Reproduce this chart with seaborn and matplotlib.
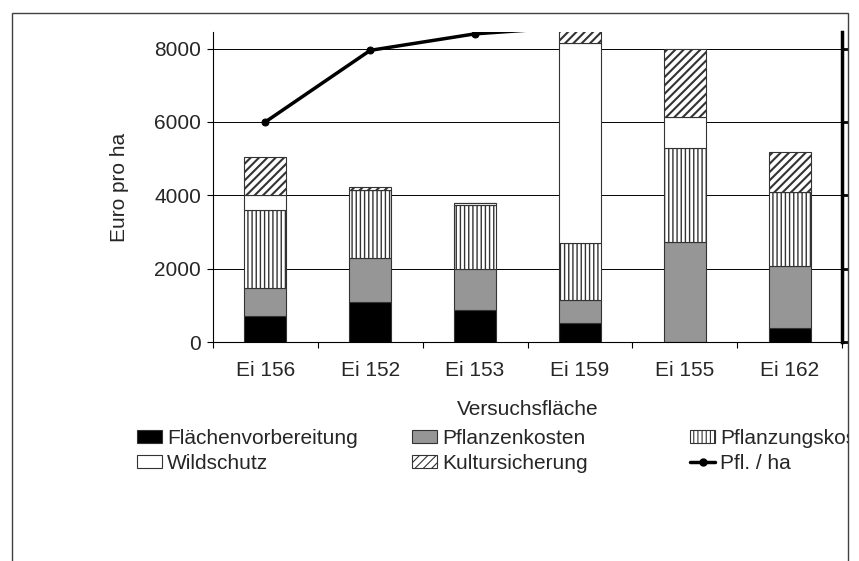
import numpy as np
import matplotlib.pyplot as plt
import seaborn as sns
from matplotlib.patches import Patch, Rectangle
from matplotlib.lines import Line2D

# Kosten der Kulturbegruendung je Versuchsflaeche (Euro pro ha)
flaechen = ['Ei 156', 'Ei 152', 'Ei 153', 'Ei 159', 'Ei 155', 'Ei 162']
flaechenvorbereitung = [700, 1100, 870, 525, 0, 380]
pflanzenkosten = [760, 1180, 1130, 620, 2730, 1690]
pflanzungskosten = [2150, 1860, 1730, 1545, 2550, 2030]
wildschutz = [400, 0, 65, 5450, 860, 0]
kultursicherung = [1040, 75, 0, 500, 1860, 1090]
# Pflanzen pro ha (rechte Achse, oberhalb nicht sichtbar)
pfl_pro_ha = [6000, 7950, 8400, 8600, 9400, 9000]

sns.set_theme(style='white', rc={'hatch.linewidth': 0.8})
plt.rcParams['font.family'] = ['Liberation Sans', 'DejaVu Sans']
fs = 15

fig = plt.figure(figsize=(8.59, 5.61), dpi=100)
ax = fig.add_axes([213 / 859, 1 - 342 / 561, 629 / 859, 310 / 561])

# name, werte, farbe, schraffur, strichstaerke der schraffur
segmente = [
    ('Flächenvorbereitung', flaechenvorbereitung, 'black', None, 0.8),
    ('Pflanzenkosten', pflanzenkosten, '#969696', None, 0.8),
    ('Pflanzungskosten', pflanzungskosten, 'white', '||||', 1.0),
    ('Wildschutz', wildschutz, 'white', None, 0.8),
    ('Kultursicherung', kultursicherung, 'white', '////', 1.5),
]


def hatch_lw(patch, lw):
    if hasattr(patch, 'set_hatch_linewidth'):
        patch.set_hatch_linewidth(lw)


bottom = np.zeros(len(flaechen))
for name, werte, farbe, muster, hlw in segmente:
    n_vorher = len(ax.patches)
    sns.barplot(x=flaechen, y=werte, bottom=bottom, color=farbe, saturation=1,
                edgecolor='#333333', linewidth=0.8, hatch=muster, width=0.4,
                errorbar=None, ax=ax)
    for p in ax.patches[n_vorher:]:
        hatch_lw(p, hlw)
    bottom = bottom + np.array(werte)

ax.set_ylim(0, 8450)
ax.set_yticks([0, 2000, 4000, 6000, 8000])
ax.yaxis.grid(True, color='black', linewidth=0.7)
ax.set_axisbelow(True)
for s in ['top', 'right']:
    ax.spines[s].set_visible(False)
for s in ['left', 'bottom']:
    ax.spines[s].set_color('black')
    ax.spines[s].set_linewidth(0.8)

# Striche zwischen den Kategorien, Beschriftung in der Mitte
ax.set_xticks(np.arange(len(flaechen) + 1) - 0.5)
ax.set_xticklabels([])
ax.set_xticks(np.arange(len(flaechen)), minor=True)
ax.set_xticklabels(flaechen, minor=True, fontsize=fs)
ax.tick_params(axis='x', which='major', direction='out', length=4.5, width=0.8,
               color='black', bottom=True)
ax.tick_params(axis='x', which='minor', length=0, pad=13.5)
ax.tick_params(axis='y', direction='out', length=4.5, width=0.8, color='black',
               left=True, labelsize=fs, pad=4)

ax.set_ylabel('Euro pro ha', fontsize=fs)
ax.yaxis.set_label_coords(-0.133, 0.5)
ax.set_xlabel('Versuchsfläche', fontsize=fs)
ax.xaxis.set_label_coords(0.5, -0.186)

# zweite Achse fuer Pflanzen pro ha
ax2 = ax.twinx()
sns.lineplot(x=np.arange(len(flaechen)), y=pfl_pro_ha, ax=ax2, color='black',
             linewidth=2.5, marker='o', markersize=5, markeredgecolor='black',
             legend=False)
ax2.set_ylim(0, 8450)
ax2.set_yticks([0, 2000, 4000, 6000, 8000])
ax2.set_yticklabels([])
ax2.set_ylabel('')
for s in ['top', 'left', 'bottom']:
    ax2.spines[s].set_visible(False)
ax2.spines['right'].set_color('black')
ax2.spines['right'].set_linewidth(2.5)
ax2.tick_params(axis='y', direction='out', length=5, width=2, color='black', right=True)
ax.set_xlim(-0.5, len(flaechen) - 0.5)

# Legende in drei Spalten
hdl = {}
for name, _, farbe, muster, hlw in segmente:
    hdl[name] = Patch(facecolor=farbe, edgecolor='#333333', linewidth=0.8, hatch=muster)
    hatch_lw(hdl[name], hlw)
linie = Line2D([], [], color='black', linewidth=2.5, marker='o', markersize=5)
spalten = [
    (137, ['Flächenvorbereitung', 'Wildschutz']),
    (412, ['Pflanzenkosten', 'Kultursicherung']),
    (690, ['Pflanzungskosten', 'Pfl. / ha']),
]
for xpos, namen in spalten:
    handles = [linie if n == 'Pfl. / ha' else hdl[n] for n in namen]
    fig.legend(handles, namen, loc='center left',
               bbox_to_anchor=(xpos / 859, 1 - 451 / 561), frameon=False,
               fontsize=fs, borderpad=0, borderaxespad=0, handlelength=1.2,
               handleheight=0.61, handletextpad=0.24, labelspacing=0.28)

# Rahmen (rechts abgeschnitten)
fig.add_artist(Rectangle((848.5 / 859, 0), 11 / 859, 1, facecolor='white',
                         edgecolor='none', transform=fig.transFigure, zorder=10))
fig.add_artist(Rectangle((12 / 859, -0.1), 836 / 859, 0.1 + 548 / 561, fill=False,
                         edgecolor='#404040', linewidth=1.0,
                         transform=fig.transFigure, zorder=11))

fig.savefig('out.png', dpi=100)
